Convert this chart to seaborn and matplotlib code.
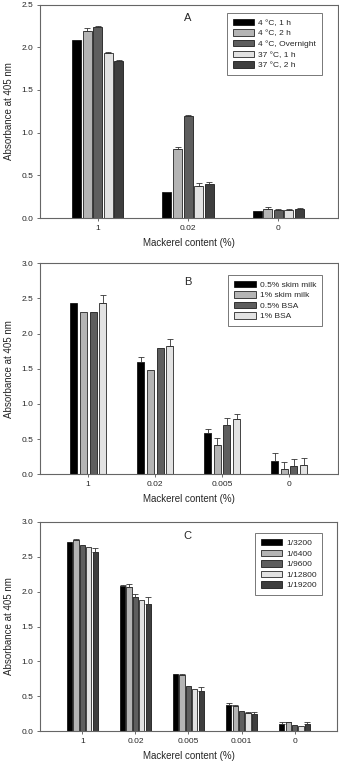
import numpy as np
import pandas as pd
import matplotlib
matplotlib.use('Agg')
import matplotlib.pyplot as plt
import seaborn as sns

sns.set_style('ticks')
plt.rcParams['font.family'] = ['Liberation Sans', 'DejaVu Sans']

# ---- data ----
cats_a = ['1', '0.02', '0']
series_a = ['4 °C, 1 h', '4 °C, 2 h', '4 °C, Overnight', '37 °C, 1 h', '37 °C, 2 h']
vals_a = [[2.08, 0.30, 0.08],
          [2.19, 0.81, 0.10],
          [2.24, 1.19, 0.09],
          [1.93, 0.38, 0.09],
          [1.84, 0.40, 0.11]]
err_a = [[0.00, 0.01, 0.00],
         [0.03, 0.02, 0.03],
         [0.01, 0.02, 0.01],
         [0.02, 0.03, 0.01],
         [0.01, 0.02, 0.01]]

cats_b = ['1', '0.02', '0.005', '0']
series_b = ['0.5% skim milk', '1% skim milk', '0.5% BSA', '1% BSA']
vals_b = [[2.43, 1.59, 0.59, 0.19],
          [2.31, 1.48, 0.41, 0.07],
          [2.31, 1.79, 0.70, 0.12],
          [2.44, 1.82, 0.79, 0.13]]
err_b = [[0.00, 0.07, 0.06, 0.11],
         [0.00, 0.00, 0.10, 0.10],
         [0.00, 0.00, 0.10, 0.10],
         [0.11, 0.10, 0.06, 0.10]]

cats_c = ['1', '0.02', '0.005', '0.001', '0']
series_c = ['1/3200', '1/6400', '1/9600', '1/12800', '1/19200']
vals_c = [[2.71, 2.08, 0.82, 0.37, 0.10],
          [2.74, 2.07, 0.80, 0.36, 0.13],
          [2.67, 1.92, 0.65, 0.29, 0.09],
          [2.64, 1.88, 0.60, 0.26, 0.08],
          [2.57, 1.82, 0.58, 0.25, 0.10]]
err_c = [[0.00, 0.02, 0.00, 0.03, 0.03],
         [0.01, 0.04, 0.02, 0.01, 0.01],
         [0.00, 0.04, 0.00, 0.00, 0.00],
         [0.00, 0.00, 0.00, 0.01, 0.00],
         [0.06, 0.10, 0.05, 0.03, 0.03]]

colors5 = ['#000000', '#b4b4b4', '#5e5e5e', '#e2e2e2', '#3e3e3e']
colors4 = ['#000000', '#b4b4b4', '#5e5e5e', '#e2e2e2']


def panel(ax, cats, series, vals, errs, colors, letter, ymax, yticks,
          width, gap, xlim, letter_y, leg_anchor):
    rows = []
    for s, vv in zip(series, vals):
        for c, v in zip(cats, vv):
            rows.append({'cat': c, 'series': s, 'val': v})
    df = pd.DataFrame(rows)
    sns.barplot(data=df, x='cat', y='val', hue='series', order=cats,
                hue_order=series, palette=colors, width=width, gap=gap,
                errorbar=None, edgecolor='black', linewidth=0.5,
                saturation=1, ax=ax)
    # upper-only error bars on each bar
    for cont, ee in zip(ax.containers, errs):
        for bar, e in zip(cont, ee):
            if e > 0:
                xc = bar.get_x() + bar.get_width() / 2
                ax.errorbar(xc, bar.get_height(), yerr=[[0], [e]], fmt='none',
                            ecolor='#333333', elinewidth=0.6, capsize=2.2,
                            capthick=0.6)
    ax.set_ylim(0, ymax)
    ax.set_yticks(yticks)
    ax.set_yticklabels([f'{t:.1f}' for t in yticks])
    ax.set_xlim(*xlim)
    ax.set_xlabel('Mackerel content (%)', fontsize=7, labelpad=4)
    ax.set_ylabel('Absorbance at 405 nm', fontsize=7, labelpad=5)
    ax.tick_params(labelsize=6, length=2.5, width=0.6, color='#555555',
                   direction='out', pad=2.5)
    for sp in ax.spines.values():
        sp.set_visible(True)
        sp.set_color('#666666')
        sp.set_linewidth(0.8)
    ax.text(0.495, letter_y, letter, transform=ax.transAxes, fontsize=8,
            ha='center', va='center')
    leg = ax.legend(loc='upper right', bbox_to_anchor=leg_anchor, fontsize=6,
                    frameon=True, fancybox=False, edgecolor='#555555',
                    handlelength=2.6, handleheight=0.8, labelspacing=0.3,
                    handletextpad=0.45, borderpad=0.7, title=None)
    leg.get_frame().set_linewidth(0.7)


fig = plt.figure(figsize=(3.39, 7.65), dpi=100)
fig.patch.set_facecolor('white')

ax_a = fig.add_axes([0.118, 0.715, 0.879, 0.279])
panel(ax_a, cats_a, series_a, vals_a, err_a, colors5, 'A', 2.5,
      [0.0, 0.5, 1.0, 1.5, 2.0, 2.5], 0.585, 0.15, (-0.64, 2.66), 0.935,
      (0.96, 0.98))

ax_b = fig.add_axes([0.118, 0.380, 0.879, 0.276])
panel(ax_b, cats_b, series_b, vals_b, err_b, colors4, 'B', 3.0,
      [0.0, 0.5, 1.0, 1.5, 2.0, 2.5, 3.0], 0.58, 0.28, (-0.72, 3.73), 0.91,
      (0.96, 0.965))

ax_c = fig.add_axes([0.118, 0.044, 0.876, 0.274])
panel(ax_c, cats_c, series_c, vals_c, err_c, colors5, 'C', 3.0,
      [0.0, 0.5, 1.0, 1.5, 2.0, 2.5, 3.0], 0.6, 0.17, (-0.8, 4.8), 0.93,
      (0.965, 0.965))

fig.savefig('out.png', dpi=100)
